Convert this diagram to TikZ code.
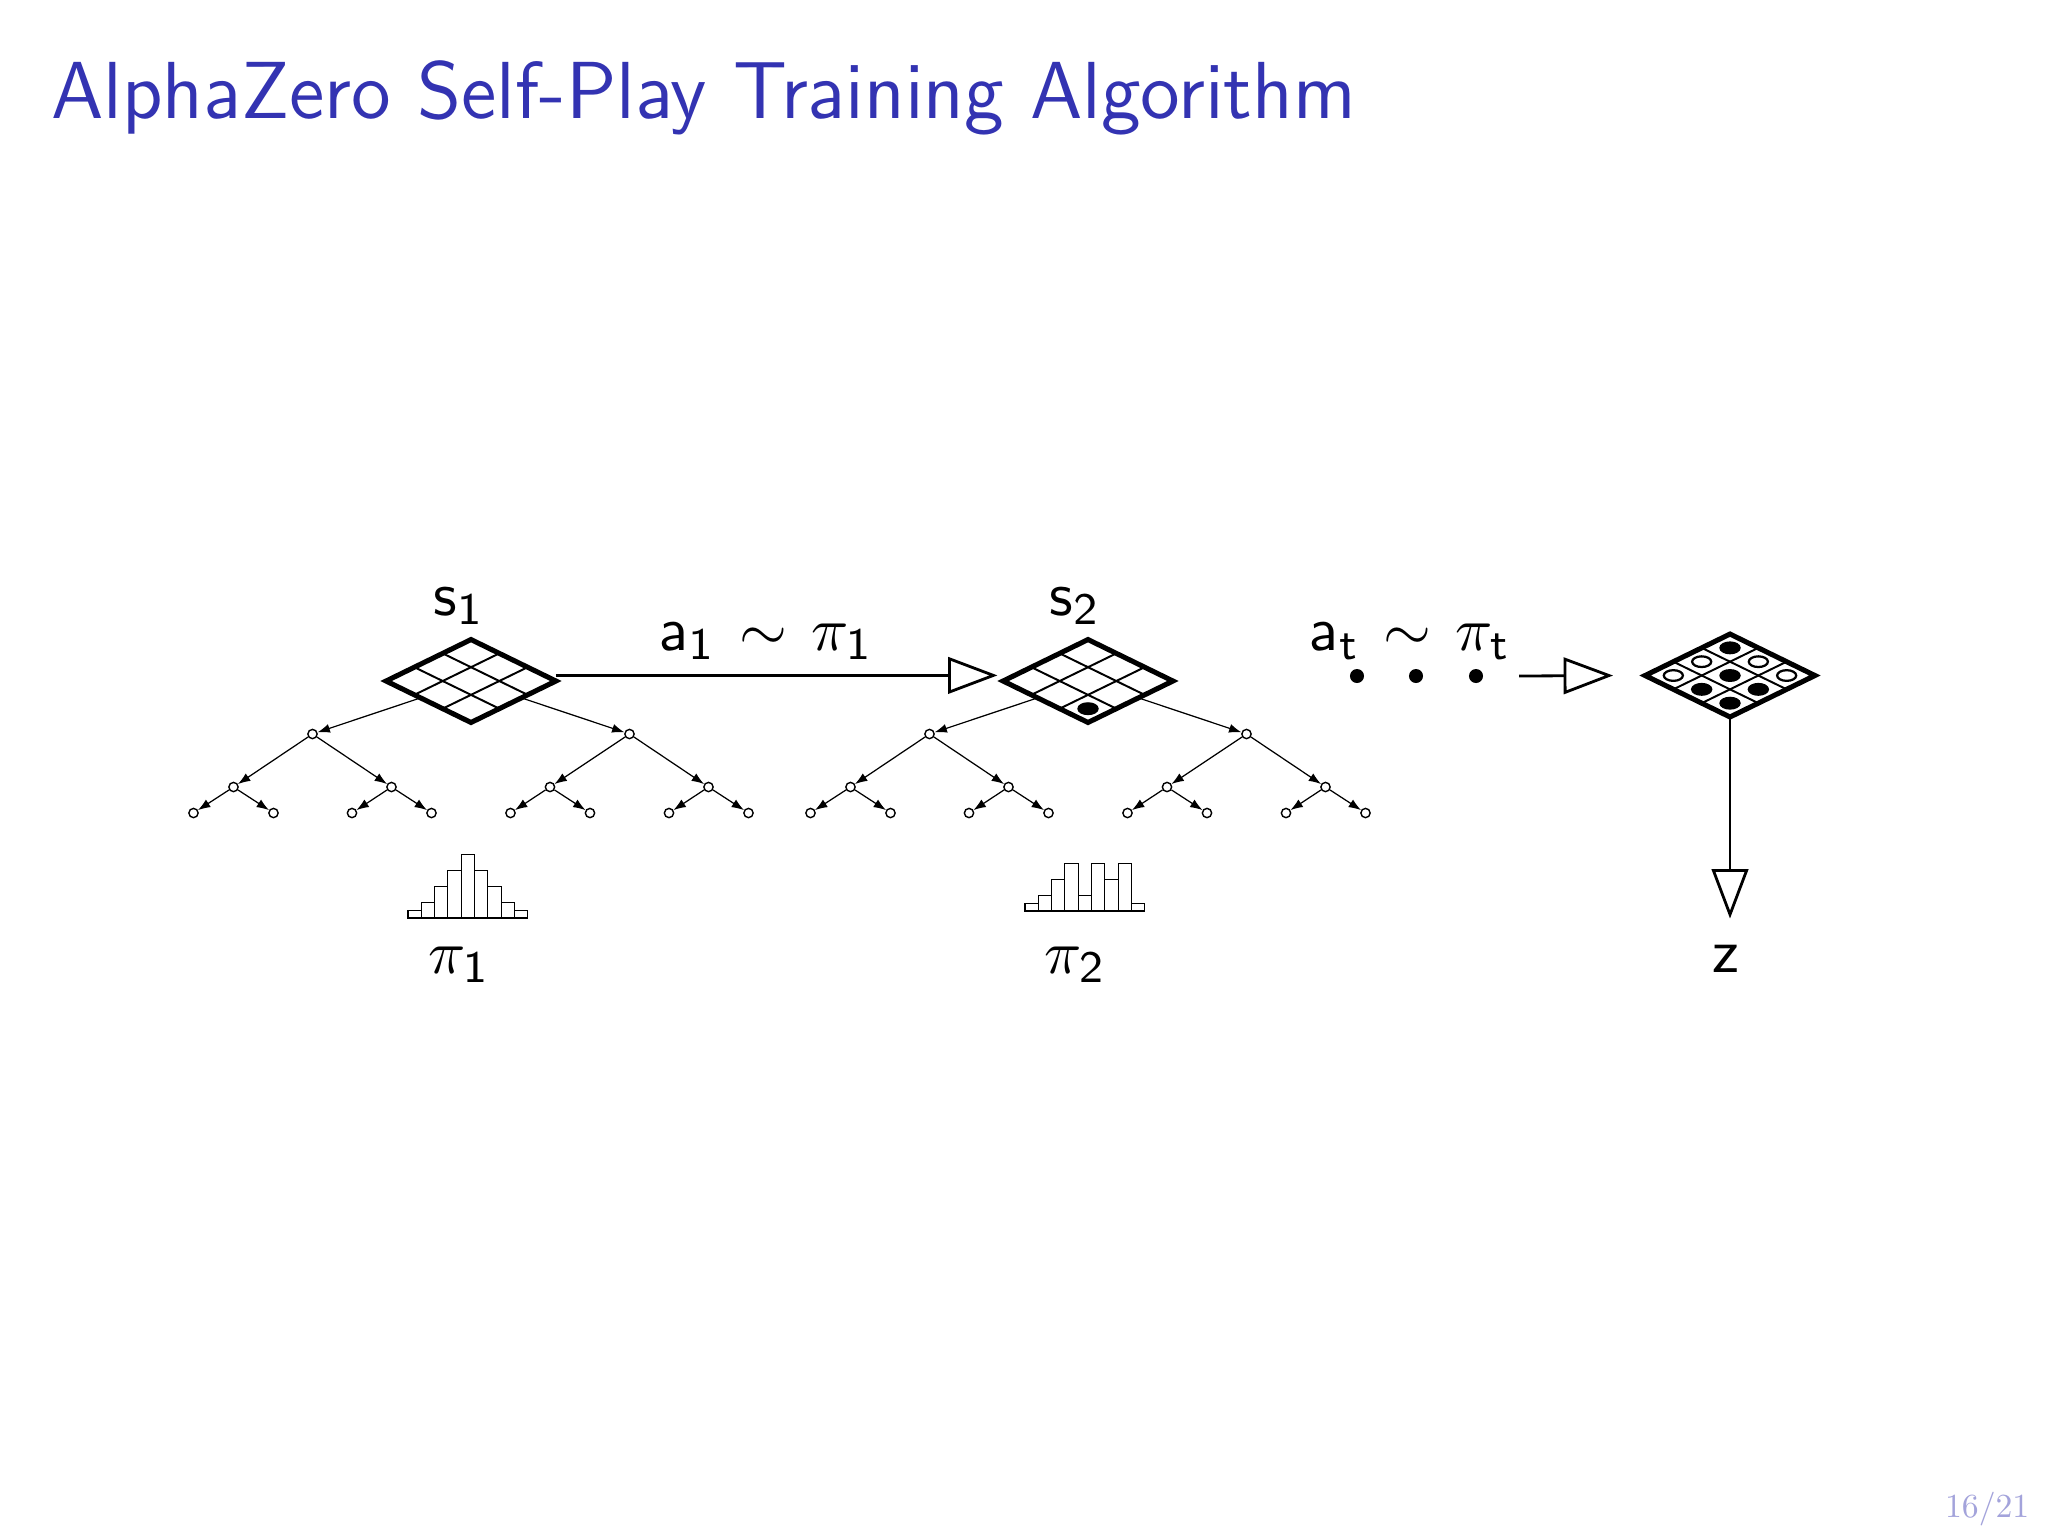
\documentclass[tikz,border=0pt]{standalone}
\usetikzlibrary{arrows.meta,shapes.geometric,calc}
\pgfdeclarelayer{background}
\pgfdeclarelayer{canvas}
\pgfsetlayers{canvas,background,main}
\definecolor{titleblue}{rgb}{0.2,0.2,0.7}
\definecolor{pagenum}{rgb}{0.64,0.64,0.86}
% tree of search nodes below a board: #1 prefix, #2 centre x, #3 board node
\newcommand{\mctree}[3]{%
  \node[tnode] (#1A) at (#2-158.5,734) {};
  \node[tnode] (#1B) at (#2+158.5,734) {};
  \node[tnode] (#1AA) at (#2-237.5,787) {};
  \node[tnode] (#1AB) at (#2-79.5,787) {};
  \node[tnode] (#1BA) at (#2+79,787) {};
  \node[tnode] (#1BB) at (#2+237.5,787) {};
  \node[tnode] (#1AAA) at (#2-277.5,813) {};
  \node[tnode] (#1AAB) at (#2-197.5,813) {};
  \node[tnode] (#1ABA) at (#2-119,813) {};
  \node[tnode] (#1ABB) at (#2-39.5,813) {};
  \node[tnode] (#1BAA) at (#2+39.5,813) {};
  \node[tnode] (#1BAB) at (#2+119,813) {};
  \node[tnode] (#1BBA) at (#2+198,813) {};
  \node[tnode] (#1BBB) at (#2+277.5,813) {};
  \begin{pgfonlayer}{background}
    \draw[tedge] (#3.center) -- (#1A);
    \draw[tedge] (#3.center) -- (#1B);
    \draw[tedge] (#1A) -- (#1AA);
    \draw[tedge] (#1A) -- (#1AB);
    \draw[tedge] (#1B) -- (#1BA);
    \draw[tedge] (#1B) -- (#1BB);
    \draw[tedge] (#1AA) -- (#1AAA);
    \draw[tedge] (#1AA) -- (#1AAB);
    \draw[tedge] (#1AB) -- (#1ABA);
    \draw[tedge] (#1AB) -- (#1ABB);
    \draw[tedge] (#1BA) -- (#1BAA);
    \draw[tedge] (#1BA) -- (#1BAB);
    \draw[tedge] (#1BB) -- (#1BBA);
    \draw[tedge] (#1BB) -- (#1BBB);
  \end{pgfonlayer}%
}
% 3x3 grid inside a board node
\newcommand{\mcgrid}[1]{%
  \draw[gridln] ($(#1.north)!1/3!(#1.east)$) -- ($(#1.west)!1/3!(#1.south)$);
  \draw[gridln] ($(#1.north)!2/3!(#1.east)$) -- ($(#1.west)!2/3!(#1.south)$);
  \draw[gridln] ($(#1.north)!1/3!(#1.west)$) -- ($(#1.east)!1/3!(#1.south)$);
  \draw[gridln] ($(#1.north)!2/3!(#1.west)$) -- ($(#1.east)!2/3!(#1.south)$);
}
% stone: #1 cx, #2 cy, #3 i, #4 j, #5 fill colour
\newcommand{\mcstone}[5]{%
  \draw[line width=0.4pt, fill=#5] ({#1+85*(#3-#4)/3},{#2-41.5+41.5*(#3+#4+1)/3}) ellipse [x radius=1.7pt, y radius=0.95pt];
}
\begin{document}
\begin{tikzpicture}[x=0.00625cm, y=-0.00625cm,
  board/.style={diamond, draw, line width=0.9pt, fill=white, inner sep=0pt, outer sep=0pt,
                minimum width=1.0625cm, minimum height=0.51875cm},
  gridln/.style={line width=0.35pt},
  tnode/.style={circle, draw, line width=0.25pt, fill=white, inner sep=0pt, minimum size=1.65pt},
  tedge/.style={line width=0.22pt, -{Latex[length=2.2pt,width=1.6pt]}},
  bigarrow/.style={line width=0.5pt, -{Triangle[open,length=8.8pt,width=6.5pt]}},
  lbl/.style={font=\fontsize{11}{13}\selectfont, inner sep=0pt},
  bar/.style={line width=0.2pt, fill=white},
  dotn/.style={circle, fill=black, inner sep=0pt, minimum size=2.5pt}]
\begin{pgfonlayer}{canvas}
\fill[white] (0,0) rectangle (2048,1536);
\end{pgfonlayer}
\useasboundingbox (0,0) rectangle (2048,1536);

% title and page number
\node[anchor=base west, inner sep=0pt, text=titleblue,
      font=\sffamily\fontsize{14.4}{17}\selectfont] (title) at (50,118)
      {AlphaZero Self-Play Training Algorithm};
\node[anchor=base east, inner sep=0pt, text=pagenum, scale=0.6,
      font=\rmfamily\fontsize{10}{12}\selectfont] (pg) at (2030,1517) {16/21};

% boards
\node[board] (b1) at (471,681) {};
\mcgrid{b1}
\node[board] (b2) at (1088,681) {};
\mcgrid{b2}
\mcstone{1088}{681}{2}{2}{black}
\node[board] (b3) at (1730,675.5) {};
\mcgrid{b3}
\mcstone{1730}{675.5}{0}{0}{black}
\mcstone{1730}{675.5}{0}{1}{white}
\mcstone{1730}{675.5}{1}{0}{white}
\mcstone{1730}{675.5}{0}{2}{white}
\mcstone{1730}{675.5}{1}{1}{black}
\mcstone{1730}{675.5}{2}{0}{white}
\mcstone{1730}{675.5}{1}{2}{black}
\mcstone{1730}{675.5}{2}{1}{black}
\mcstone{1730}{675.5}{2}{2}{black}

% search trees
\mctree{ta}{471}{b1}
\mctree{tb}{1088}{b2}

% labels
\node[lbl, anchor=base] (s1) at (459,615) {$\mathsf{s}_{\mathsf{1}}$};
\node[lbl, anchor=base] (s2) at (1075,615) {$\mathsf{s}_{\mathsf{2}}$};
\node[lbl, anchor=base] (p1) at (459,973) {$\pi_{\mathsf{1}}$};
\node[lbl, anchor=base] (p2) at (1075,973) {$\pi_{\mathsf{2}}$};
\node[lbl, anchor=base] (z) at (1726,972) {$\mathsf{z}$};
\node[lbl, anchor=base] (act1) at (766,650) {$\mathsf{a}_{\mathsf{1}}\mkern2mu\sim\mkern2mu\pi_{\mathsf{1}}$};
\node[lbl, anchor=base] (actt) at (1410,650) {$\mathsf{a}_{\mathsf{t}}\mkern2mu\sim\mkern2mu\pi_{\mathsf{t}}$};

% dots
\node[dotn] (d1) at (1357,676) {};
\node[dotn] (d2) at (1416,676) {};
\node[dotn] (d3) at (1476,676) {};

% arrows
\draw[bigarrow] ([yshift=1pt]b1.east) -- ([xshift=-1pt,yshift=1pt]b2.west);
\coordinate (astart) at (1519,676);
\draw[bigarrow] (astart) -- ([xshift=-5.7pt]b3.west);
\draw[bigarrow] (b3.south) -- ($(b3.south |- z.north)+(0,-25)$);

% histograms
\foreach \h [count=\k from 0] in {1,2,4,6,8,6,4,2,1}
  \draw[bar] ({408+13.3*\k},918) rectangle ({408+13.3*(\k+1)},{918-7.9*\h});
\foreach \h [count=\k from 0] in {1,2,4,6,2,6,4,6,1}
  \draw[bar] ({1025+13.3*\k},911) rectangle ({1025+13.3*(\k+1)},{911-7.9*\h});
\end{tikzpicture}
\end{document}
